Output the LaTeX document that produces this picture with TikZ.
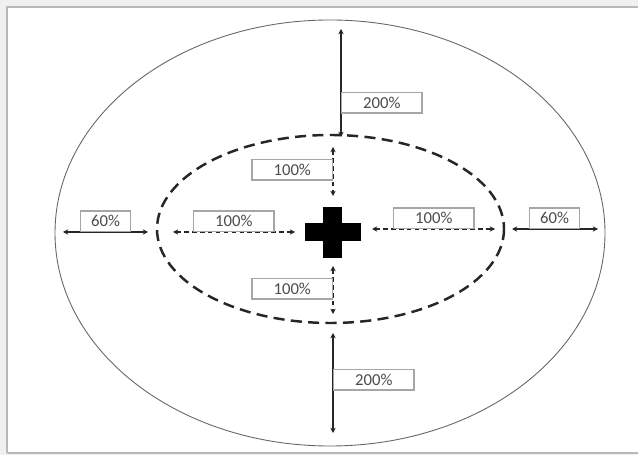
\documentclass[tikz,border=0pt]{standalone}
\usepackage{fontspec}
\setmainfont{Carlito}
\usepackage{tikz}
\usetikzlibrary{arrows.meta,positioning}

\begin{document}
\begin{tikzpicture}[
      x=0.02cm, y=-0.02cm,
      font=\fontsize{9.5}{11}\selectfont,
      lbl/.style={draw=gray!70, line width=0.6pt, text=black!70, inner sep=0pt,
                  minimum width=1.61cm, minimum height=0.41cm},
      lblsm/.style={lbl, minimum width=1cm},
      arr/.style={{Stealth[length=3pt,width=3pt]}-{Stealth[length=3pt,width=3pt]},
                  line width=0.7pt, draw=black!85},
      darr/.style={arr, dash pattern=on 2.6pt off 1.9pt},
      ring/.style={draw=black!60, line width=0.5pt},
      zone/.style={draw=black!85, line width=1.4pt, dash pattern=on 6.3pt off 3.6pt}
    ]
    \useasboundingbox (0,0) rectangle (638,455);
    % page frame
    \fill[gray!12] (0,0) rectangle (638,455);
    \fill[white] (7,7) rectangle (638,453);
    \draw[gray!55, line width=0.6pt] (7,453) -- (7,7) -- (638,7);
    \draw[gray!55, line width=0.6pt] (7,453) -- (638,453);

    % outer and inner zones
    \draw[ring] (330,233) ellipse [x radius=275, y radius=213];
    \draw[zone] (330.5,229) ellipse [x radius=173.5, y radius=94];

    % cross
    \fill[black] (323,207) rectangle (342,258);
    \fill[black] (305,223) rectangle (361,241);

    % end points
    \coordinate (topA) at (341,29);
    \coordinate (topB) at (341,137);
    \coordinate (upA)  at (333,147);
    \coordinate (upB)  at (333,196);
    \coordinate (dnA)  at (333,266);
    \coordinate (dnB)  at (333,314);
    \coordinate (botA) at (333,333);
    \coordinate (botB) at (333,433);
    \coordinate (lfA)  at (63,232);
    \coordinate (lfB)  at (148,232);
    \coordinate (liA)  at (173,232);
    \coordinate (liB)  at (295,232);
    \coordinate (riA)  at (372,229);
    \coordinate (riB)  at (495,229);
    \coordinate (rfA)  at (512,229);
    \coordinate (rfB)  at (598,229);

    \draw[arr]  (topA) -- (topB);
    \draw[darr] (upA)  -- (upB);
    \draw[darr] (dnA)  -- (dnB);
    \draw[arr]  (botA) -- (botB);
    \draw[arr]  (lfA)  -- (lfB);
    \draw[darr] (liA)  -- (liB);
    \draw[darr] (riA)  -- (riB);
    \draw[arr]  (rfA)  -- (rfB);

    % labels
    \node[lbl, anchor=north west] (topL) at (341,92)  {200\%};
    \node[lbl, anchor=north east] (upL)  at (333,159) {100\%};
    \node[lbl, anchor=north east] (dnL)  at (333,278) {100\%};
    \node[lbl, anchor=north west] (botL) at (333,369) {200\%};
    \node[lblsm, anchor=south west] (lfL) at (80,232)  {60\%};
    \node[lbl, anchor=south west]  (liL) at (193,232) {100\%};
    \node[lbl, anchor=south west]  (riL) at (393,229) {100\%};
    \node[lblsm, anchor=south west] (rfL) at (529,229) {60\%};
  \end{tikzpicture}
\end{document}
